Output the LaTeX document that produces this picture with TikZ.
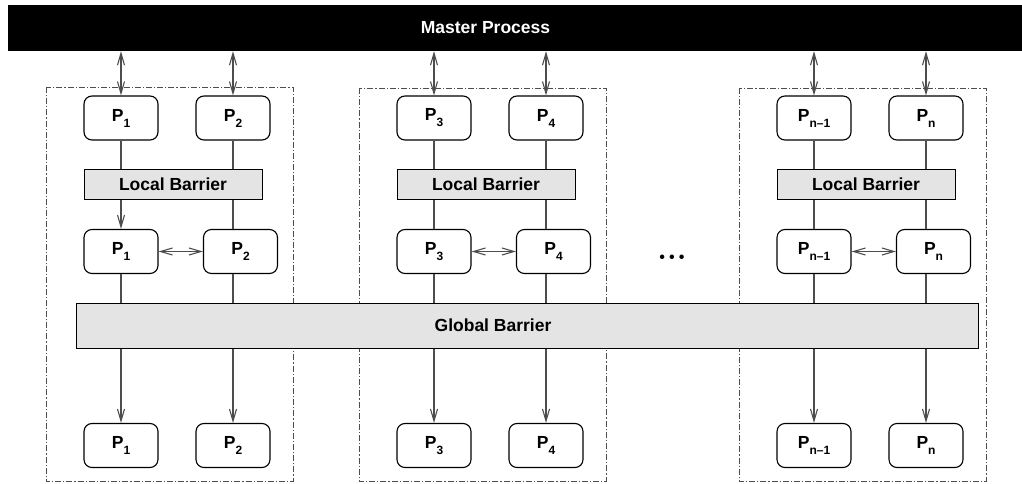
\documentclass[tikz,border=0pt]{standalone}
\usepackage{fontspec}
\setmainfont{Liberation Sans}
\newfontfamily\dotfont{Latin Modern Roman}
\usepackage{tikz}
\usetikzlibrary{arrows.meta}

\definecolor{barfill}{HTML}{E4E4E4}
\definecolor{linegray}{HTML}{4D4D4D}

\newcommand{\pl}[1]{P\raisebox{-6pt}{\fontsize{12}{12}\selectfont #1}}

\tikzset{
    proc/.style={draw, rounded corners=8pt, line width=1.1pt, minimum width=74pt, minimum height=44pt, inner sep=0pt},
    lbar/.style={draw, line width=1pt, fill=barfill, minimum width=178pt, minimum height=30pt, inner sep=0pt},
    link/.style={draw=linegray, line width=1.1pt},
    both/.style={link, {Straight Barb[length=12pt,width=7pt]}-{Straight Barb[length=12pt,width=7pt]}},
    down/.style={link, -{Straight Barb[length=12pt,width=7pt]}},
    group/.style={draw=linegray, line width=0.9pt, dash pattern=on 6pt off 2pt on 1.2pt off 2pt}
}

\begin{document}
\begin{tikzpicture}[x=1pt, y=-1pt, font=\fontsize{17.5}{20}\selectfont\bfseries]
                \useasboundingbox (0,0) rectangle (1022,484);
                % Groups
                \draw[group] (46,87) rectangle (293,481);
                \draw[group] (359,88) rectangle (606,481);
                \draw[group] (739,88) rectangle (986,481);
                % Nodes
                \node[fill=black, minimum width=1014pt, minimum height=46pt, inner sep=0pt,
                      label={[text=white, xshift=-29.5pt]center:Master Process}] (master) at (515,28) {};
                \node[draw, line width=1pt, fill=barfill, minimum width=902pt, minimum height=45pt, inner sep=0pt,
                      label={[xshift=-34pt]center:Global Barrier}] (gb) at (527,325.5) {};
                % group 1
                \node[proc] (t1) at (121,118) {\pl{1}};
                \node[proc] (t2) at (233,118) {\pl{2}};
                \node[lbar] (lb1) at (173,184.5) {Local Barrier};
                \node[proc] (m1) at (121,251.5) {\pl{1}};
                \node[proc] (m2) at (240.5,251.5) {\pl{2}};
                \node[proc] (b1) at (121,445.5) {\pl{1}};
                \node[proc] (b2) at (233,445.5) {\pl{2}};
                % group 2
                \node[proc] (t3) at (434,118) {\pl{3}};
                \node[proc] (t4) at (546,118) {\pl{4}};
                \node[lbar] (lb2) at (486,184.5) {Local Barrier};
                \node[proc] (m3) at (434,251.5) {\pl{3}};
                \node[proc] (m4) at (553.5,251.5) {\pl{4}};
                \node[proc] (b3) at (434,445.5) {\pl{3}};
                \node[proc] (b4) at (546,445.5) {\pl{4}};
                % group n
                \node[proc] (t5) at (814,118) {\pl{n\textendash1}};
                \node[proc] (t6) at (926,118) {\pl{n}};
                \node[lbar] (lb3) at (866,184.5) {Local Barrier};
                \node[proc] (m5) at (814,251.5) {\pl{n\textendash1}};
                \node[proc] (m6) at (933.5,251.5) {\pl{n}};
                \node[proc] (b5) at (814,445.5) {\pl{n\textendash1}};
                \node[proc] (b6) at (926,445.5) {\pl{n}};
                \node[font=\dotfont\bfseries\fontsize{31}{31}\selectfont, inner sep=0pt] (dots) at (672,257) {...};
                % Edges
                \draw[both] (master.south -| t1) -- (t1);
                \draw[both] (master.south -| t2) -- (t2);
                \draw[link] (t1) -- (t1 |- lb1.north);
                \draw[link] (t2) -- (t2 |- lb1.north);
                \draw[down] (lb1.south -| m1) -- (m1);
                \draw[link] (lb1.south -| t2) -- (m2.north -| t2);
                \draw[both] (m1) -- (m2);
                \draw[link] (m1) -- (gb.north -| m1);
                \draw[link] (m2.south -| t2) -- (gb.north -| t2);
                \draw[down] (gb.south -| b1) -- (b1);
                \draw[down] (gb.south -| b2) -- (b2);
                \draw[both] (master.south -| t3) -- (t3);
                \draw[both] (master.south -| t4) -- (t4);
                \draw[link] (t3) -- (t3 |- lb2.north);
                \draw[link] (t4) -- (t4 |- lb2.north);
                \draw[link] (lb2.south -| m3) -- (m3);
                \draw[link] (lb2.south -| t4) -- (m4.north -| t4);
                \draw[both] (m3) -- (m4);
                \draw[link] (m3) -- (gb.north -| m3);
                \draw[link] (m4.south -| t4) -- (gb.north -| t4);
                \draw[down] (gb.south -| b3) -- (b3);
                \draw[down] (gb.south -| b4) -- (b4);
                \draw[both] (master.south -| t5) -- (t5);
                \draw[both] (master.south -| t6) -- (t6);
                \draw[link] (t5) -- (t5 |- lb3.north);
                \draw[link] (t6) -- (t6 |- lb3.north);
                \draw[link] (lb3.south -| m5) -- (m5);
                \draw[link] (lb3.south -| t6) -- (m6.north -| t6);
                \draw[both] (m5) -- (m6);
                \draw[link] (m5) -- (gb.north -| m5);
                \draw[link] (m6.south -| t6) -- (gb.north -| t6);
                \draw[down] (gb.south -| b5) -- (b5);
                \draw[down] (gb.south -| b6) -- (b6);
\end{tikzpicture}
\end{document}
